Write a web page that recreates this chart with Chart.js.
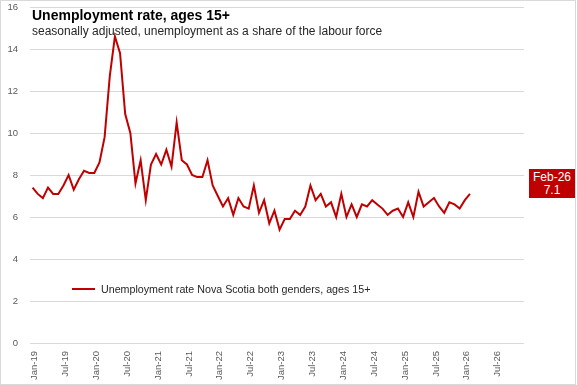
<!DOCTYPE html>
<html>
<head>
<meta charset="utf-8">
<script src="https://cdn.jsdelivr.net/npm/chart.js@4"></script>
<style>
  html, body { margin:0; padding:0; background:#fff; }
  #wrap { position:relative; width:577px; height:385px; overflow:hidden; font-family:"Liberation Sans", Arial, sans-serif; }
  #frame { position:absolute; left:0; top:0; width:576px; height:385px; box-sizing:border-box; border:1px solid #d9d9d9; pointer-events:none; }
  #title { position:absolute; left:32px; top:7px; font-size:14px; font-weight:bold; color:#000; white-space:nowrap; }
  #subtitle { position:absolute; left:32px; top:24px; font-size:12px; color:#262626; white-space:nowrap; }
  #legend { position:absolute; left:72px; top:283px; font-size:10.7px; color:#262626; white-space:nowrap; display:flex; align-items:center; }
  #legend i { display:inline-block; width:23px; height:2px; background:#c00000; margin-right:6px; }
  #lastlbl { position:absolute; left:529px; width:46px; height:29px; background:#c00000; color:#fff; font-size:12px; text-align:center; line-height:13px; padding-top:2px; box-sizing:border-box; }
</style>
</head>
<body>
<div id="wrap">
  <canvas id="c" width="577" height="385"></canvas>
  <div id="title">Unemployment rate, ages 15+</div>
  <div id="subtitle">seasonally adjusted, unemployment as a share of the labour force</div>
  <div id="legend"><i></i>Unemployment rate Nova Scotia both genders, ages 15+</div>
  <div id="lastlbl"></div>
  <div id="frame"></div>
</div>
<script>
// months Jan-19 .. Dec-26 on the axis, data runs to Feb-26
const MONTHS = ['Jan','Feb','Mar','Apr','May','Jun','Jul','Aug','Sep','Oct','Nov','Dec'];
const YEARS  = ['19','20','21','22','23','24','25','26'];
const labels = [];
YEARS.forEach(y => MONTHS.forEach(m => labels.push(m + '-' + y)));

const rate2019 = [7.4, 7.1, 6.9, 7.4, 7.1, 7.1, 7.5, 8.0, 7.3, 7.8, 8.2, 8.1];
const rate2020 = [8.1, 8.6, 9.8, 12.7, 14.6, 13.8, 10.9, 10.0, 7.6, 8.7, 6.8, 8.5];
const rate2021 = [9.0, 8.5, 9.2, 8.4, 10.5, 8.7, 8.5, 8.0, 7.9, 7.9, 8.7, 7.5];
const rate2022 = [7.0, 6.5, 6.9, 6.1, 6.9, 6.5, 6.4, 7.5, 6.2, 6.8, 5.7, 6.3];
const rate2023 = [5.4, 5.9, 5.9, 6.3, 6.1, 6.5, 7.5, 6.8, 7.1, 6.5, 6.7, 6.0];
const rate2024 = [7.1, 6.0, 6.6, 6.0, 6.6, 6.5, 6.8, 6.6, 6.4, 6.1, 6.3, 6.4];
const rate2025 = [6.0, 6.7, 6.0, 7.2, 6.5, 6.7, 6.9, 6.5, 6.2, 6.7, 6.6, 6.4];
const rate2026 = [6.8, 7.1];
const rate = [].concat(rate2019, rate2020, rate2021, rate2022, rate2023, rate2024, rate2025, rate2026);

const yTicks = [0, 2, 4, 6, 8, 10, 12, 14, 16];

const RED = '#c00000', GRID = '#d9d9d9', TXT = '#595959';

const lastLabel = {
  id: 'lastLabel',
  afterDraw(chart) {
    const i = rate.length - 1;
    const y = chart.scales.y.getPixelForValue(rate[i]);
    const el = document.getElementById('lastlbl');
    el.innerHTML = labels[i] + '<br>' + rate[i].toFixed(1);
    el.style.top = Math.round(y - 25) + 'px';
  }
};

new Chart(document.getElementById('c'), {
  type: 'line',
  data: {
    labels,
    datasets: [{ data: rate, borderColor: RED, borderWidth: 2, pointRadius: 0, tension: 0, fill: false }]
  },
  options: {
    responsive: false, animation: false,
    layout: { padding: { top: 7, right: 53, left: 0, bottom: 0 } },
    plugins: { legend: { display: false }, tooltip: { enabled: false } },
    scales: {
      x: {
        offset: true,
        grid: { display: false, drawTicks: false },
        border: { display: false },
        afterFit: s => { s.height = 42; s.paddingLeft = 0; s.paddingRight = 0; },
        ticks: {
          autoSkip: false, maxRotation: 90, minRotation: 90, padding: 8, labelOffset: 2,
          color: TXT, font: { family: 'Liberation Sans', size: 9.5 },
          callback: (v, i) => (i % 6 === 0 ? labels[i] : null)
        }
      },
      y: {
        min: 0, max: 16,
        afterBuildTicks: s => { s.ticks = yTicks.map(v => ({ value: v })); },
        afterFit: s => { s.width = 30; s.paddingTop = 0; s.paddingBottom = 0; },
        grid: { color: GRID, lineWidth: 1, drawTicks: false },
        border: { display: false },
        ticks: { padding: 12, color: TXT, font: { family: 'Liberation Sans', size: 9.5 } }
      }
    }
  },
  plugins: [lastLabel]
});
</script>
</body>
</html>
